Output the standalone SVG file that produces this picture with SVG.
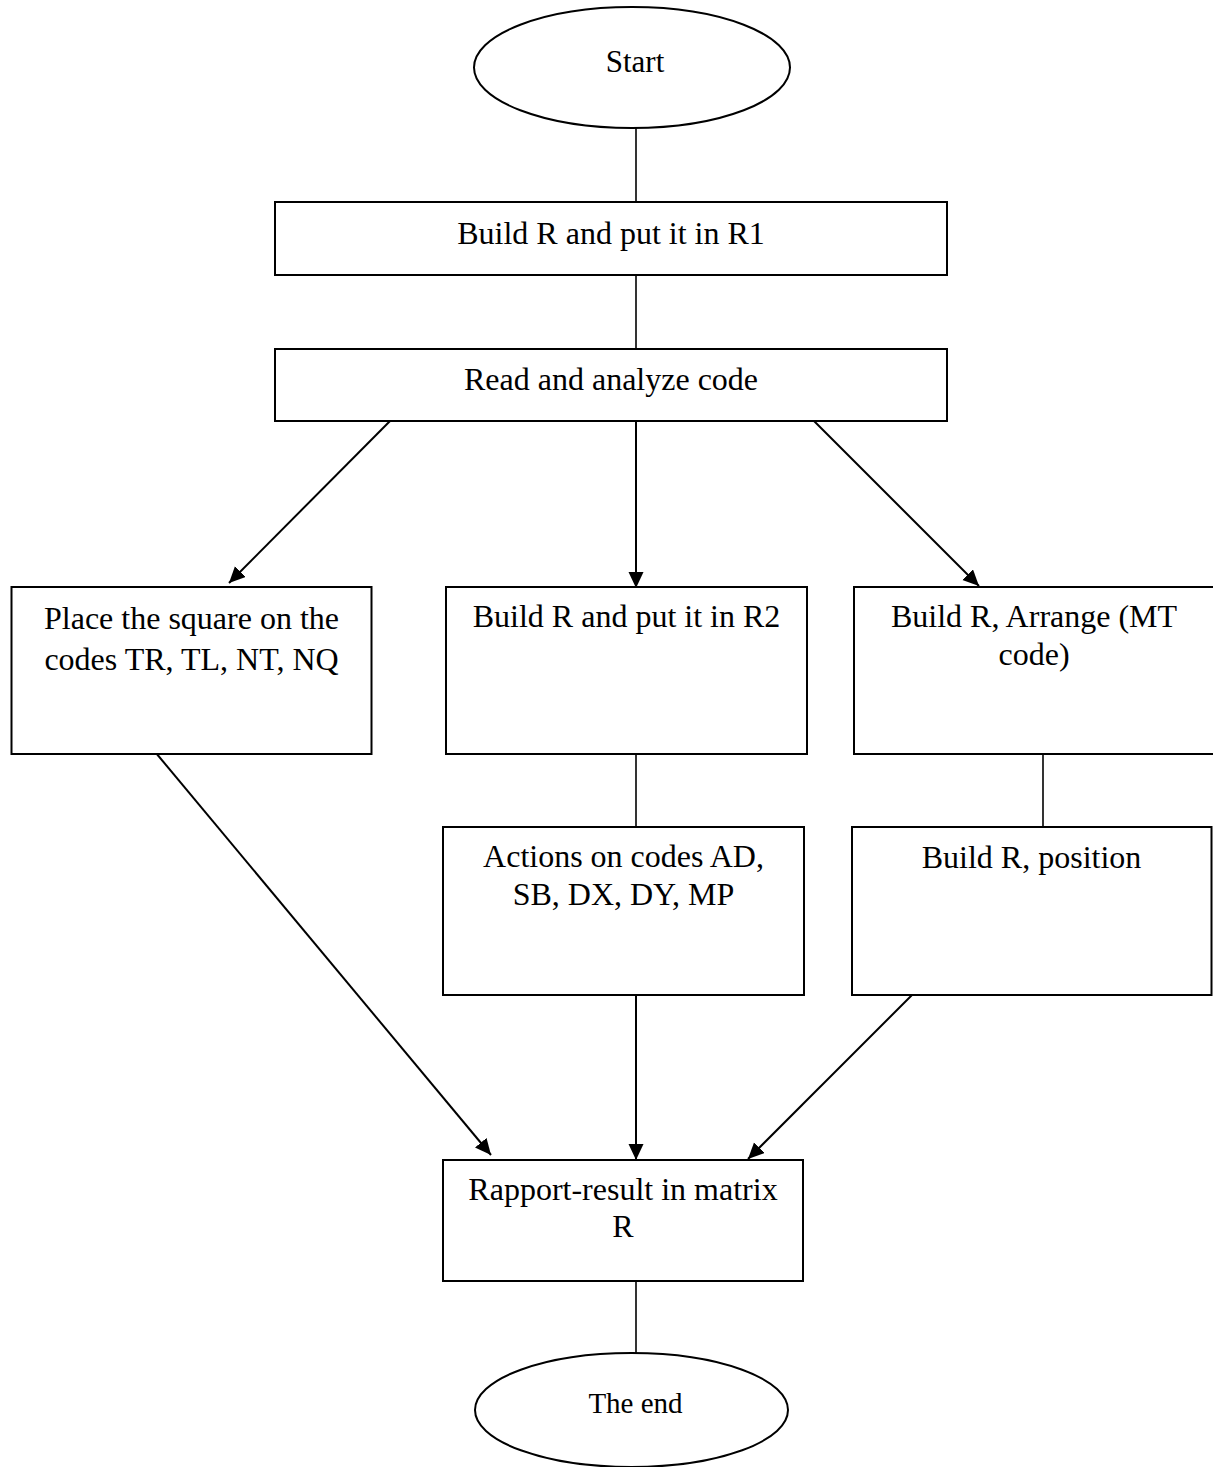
<svg xmlns="http://www.w3.org/2000/svg" width="1213" height="1467" viewBox="0 0 1213 1467">
<style>
.box{fill:#fff;stroke:#000;stroke-width:2}
.t{font-family:"Liberation Serif","Times New Roman",serif;font-size:32px;fill:#000;text-anchor:middle}
.te{font-family:"Liberation Serif","Times New Roman",serif;font-size:30px;fill:#000;text-anchor:middle}
.ln{stroke:#000;stroke-width:1.6;fill:none}
.ar{stroke:#000;stroke-width:2;fill:none;marker-end:url(#ah)}
</style>
<defs>
<marker id="ah" markerUnits="userSpaceOnUse" markerWidth="17" markerHeight="16" refX="16" refY="7.5" orient="auto">
<path d="M0,0 L16,7.5 L0,15 z" fill="#000"/>
</marker>
</defs>
<rect width="1213" height="1467" fill="#fff"/>
<g id="connectors">
<line class="ln" x1="636" y1="128" x2="636" y2="202"/>
<line class="ln" x1="636" y1="275" x2="636" y2="349"/>
<line class="ar" x1="395" y1="416" x2="229" y2="583"/>
<line class="ar" x1="636" y1="421" x2="636" y2="588"/>
<line class="ar" x1="812" y1="419" x2="979" y2="586"/>
<line class="ln" x1="636" y1="754" x2="636" y2="827"/>
<line class="ln" x1="1043" y1="754" x2="1043" y2="827"/>
<line class="ar" x1="156" y1="753" x2="491" y2="1155"/>
<line class="ar" x1="636" y1="995" x2="636" y2="1160"/>
<line class="ar" x1="914" y1="993" x2="748" y2="1159"/>
<line class="ln" x1="636" y1="1281" x2="636" y2="1353"/>
</g>
<g id="start">
<ellipse class="box" cx="632" cy="67.5" rx="158" ry="60.5"/>
<text class="te" x="635" y="72" style="font-size:31px">Start</text>
</g>
<g id="build-r1">
<rect class="box" x="275" y="202" width="672" height="73"/>
<text class="t" x="611" y="244">Build R and put it in R1</text>
</g>
<g id="read-analyze">
<rect class="box" x="275" y="349" width="672" height="72"/>
<text class="t" x="611" y="390">Read and analyze code</text>
</g>
<g id="place-square">
<rect class="box" x="11.5" y="587" width="360" height="167"/>
<text class="t" x="191.5" y="629">Place the square on the</text>
<text class="t" x="191.5" y="670">codes TR, TL, NT, NQ</text>
</g>
<g id="build-r2">
<rect class="box" x="446" y="587" width="361" height="167"/>
<text class="t" x="626.5" y="627">Build R and put it in R2</text>
</g>
<g id="build-arrange">
<rect class="box" x="854" y="587" width="360" height="167"/>
<text class="t" x="1034" y="627">Build R, Arrange (MT</text>
<text class="t" x="1034" y="665">code)</text>
</g>
<g id="actions">
<rect class="box" x="443" y="827" width="361" height="168"/>
<text class="t" x="623.5" y="867">Actions on codes AD,</text>
<text class="t" x="623.5" y="905">SB, DX, DY, MP</text>
</g>
<g id="build-position">
<rect class="box" x="852" y="827" width="359.5" height="168"/>
<text class="t" x="1031.5" y="868">Build R, position</text>
</g>
<g id="rapport">
<rect class="box" x="443" y="1160" width="360" height="121"/>
<text class="t" x="623" y="1200">Rapport-result in matrix</text>
<text class="t" x="623" y="1237">R</text>
</g>
<g id="end">
<ellipse class="box" cx="631.5" cy="1410" rx="156.5" ry="57"/>
<text class="te" x="635.5" y="1413" style="font-size:29px">The end</text>
</g>
</svg>
